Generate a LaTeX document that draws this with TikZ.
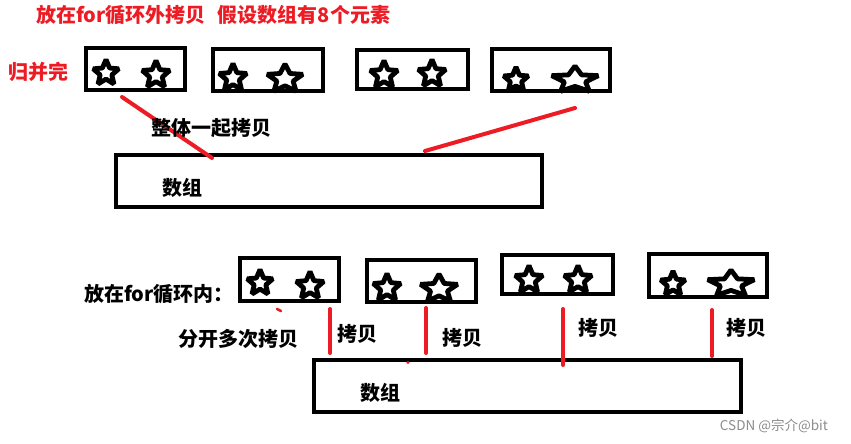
\documentclass[tikz,border=0pt]{standalone}
\usepackage{fontspec}
\setmainfont{Noto Sans CJK SC}
\usetikzlibrary{shapes.geometric}
\definecolor{pred}{RGB}{237,28,36}
\tikzset{
  box/.style={draw=black,line width=4pt,rectangle,inner sep=0pt},
  st/.style={draw=black,fill=white,line width=4.8pt,star,star points=5,star point ratio=2.2,inner sep=0pt,line join=bevel},
  redline/.style={draw=pred,line width=4pt,line cap=round},
  rlab/.style={text=pred,font=\bfseries\fontsize{20}{20}\selectfont,inner sep=0pt},
  blab/.style={text=black,font=\bfseries\fontsize{20}{20}\selectfont,inner sep=0pt},
}
\begin{document}
\begin{tikzpicture}[x=1pt,y=-1pt]
\useasboundingbox[fill=white] (0,0) rectangle (851,444);
% top row boxes
\node[box,minimum width=99pt,minimum height=42pt] (b1) at (135.5,69) {};
\node[box,minimum width=110pt,minimum height=42pt] (b2) at (268,70) {};
\node[box,minimum width=111pt,minimum height=39pt] (b3) at (412.5,69.5) {};
\node[box,minimum width=118pt,minimum height=42pt] (b4) at (551,70) {};
\node[box,minimum width=426pt,minimum height=52pt] (a1) at (329,181) {};
% stars top
\node[st,minimum size=27pt] (s11) at (106,73) {};
\node[st,minimum size=29pt] (s12) at (156,75) {};
\node[st,minimum size=29pt] (s21) at (233,78) {};
\node[st,minimum size=30pt,xscale=1.25,transform shape] (s22) at (285,79) {};
\node[st,minimum size=29pt] (s31) at (384,75) {};
\node[st,minimum size=29pt] (s32) at (432,74) {};
\node[st,minimum size=26pt] (s41) at (516,80) {};
\node[st,minimum size=28pt,xscale=1.75,transform shape] (s42) at (575,80) {};
% bottom row boxes
\node[box,minimum width=99pt,minimum height=43pt] (b5) at (289.5,279.5) {};
\node[box,minimum width=109pt,minimum height=42pt] (b6) at (421.5,281) {};
\node[box,minimum width=111pt,minimum height=39pt] (b7) at (557.5,274.5) {};
\node[box,minimum width=118pt,minimum height=43pt] (b8) at (708,275.5) {};
\node[box,minimum width=427pt,minimum height=52pt] (a2) at (527.5,386) {};
% stars bottom
\node[st,minimum size=27pt] (s51) at (260,283) {};
\node[st,minimum size=29pt] (s52) at (310,286) {};
\node[st,minimum size=29pt] (s61) at (387,288) {};
\node[st,minimum size=30pt,xscale=1.3,transform shape] (s62) at (439,289) {};
\node[st,minimum size=29pt] (s71) at (529,280) {};
\node[st,minimum size=29pt] (s72) at (578,280) {};
\node[st,minimum size=26pt] (s81) at (673,284) {};
\node[st,minimum size=28pt,xscale=1.75,transform shape] (s82) at (731,284) {};
% red connectors
\coordinate (t1) at (122,97);
\coordinate (h1) at (212,158);
\coordinate (t2) at (575,108);
\coordinate (h2) at (425,151);
\draw[redline] (t1) -- (h1);
\draw[redline] (t2) -- (h2);
\coordinate (ua) at (330,309);
\coordinate (va) at (330,353);
\coordinate (ub) at (426,308);
\coordinate (vb) at (426,353);
\coordinate (uc) at (563,309);
\coordinate (vc) at (563,365);
\coordinate (ud) at (712,310);
\coordinate (vd) at (712,356);
\draw[redline] (ua) -- (va);
\draw[redline] (ub) -- (vb);
\draw[redline] (uc) -- (vc);
\draw[redline] (ud) -- (vd);
\coordinate (m1) at (277,309);
\coordinate (m2) at (281,311);
\draw[draw=pred,line width=2.5pt,line cap=round] (m1) -- (m2);
\coordinate (m3) at (408,362.5);
\fill[pred] (m3) circle (1.6pt);
% labels
\node[rlab,anchor=west] (title) at (36,15) {放在for循环外拷贝\hspace{12pt}假设数组有8个元素};
\node[rlab,anchor=west] (gbw) at (8,72) {归并完};
\node[blab,anchor=west] (ztq) at (151,128) {整体一起拷贝};
\node[blab] (sz1) at (182,188) {数组};
\node[blab,anchor=west] (fzn) at (84,294) {放在for循环内：};
\node[blab,anchor=west] (fkd) at (178,339) {分开多次拷贝};
\node[blab] (kb1) at (357,334) {拷贝};
\node[blab] (kb2) at (462,338) {拷贝};
\node[blab] (kb3) at (598,328) {拷贝};
\node[blab] (kb4) at (746,328) {拷贝};
\node[blab] (sz2) at (380,393) {数组};
\node[text=black!45,font=\fontsize{13.5}{13.5}\selectfont,inner sep=0pt] (wm) at (774,426) {CSDN @宗介@bit};
\end{tikzpicture}
\end{document}
